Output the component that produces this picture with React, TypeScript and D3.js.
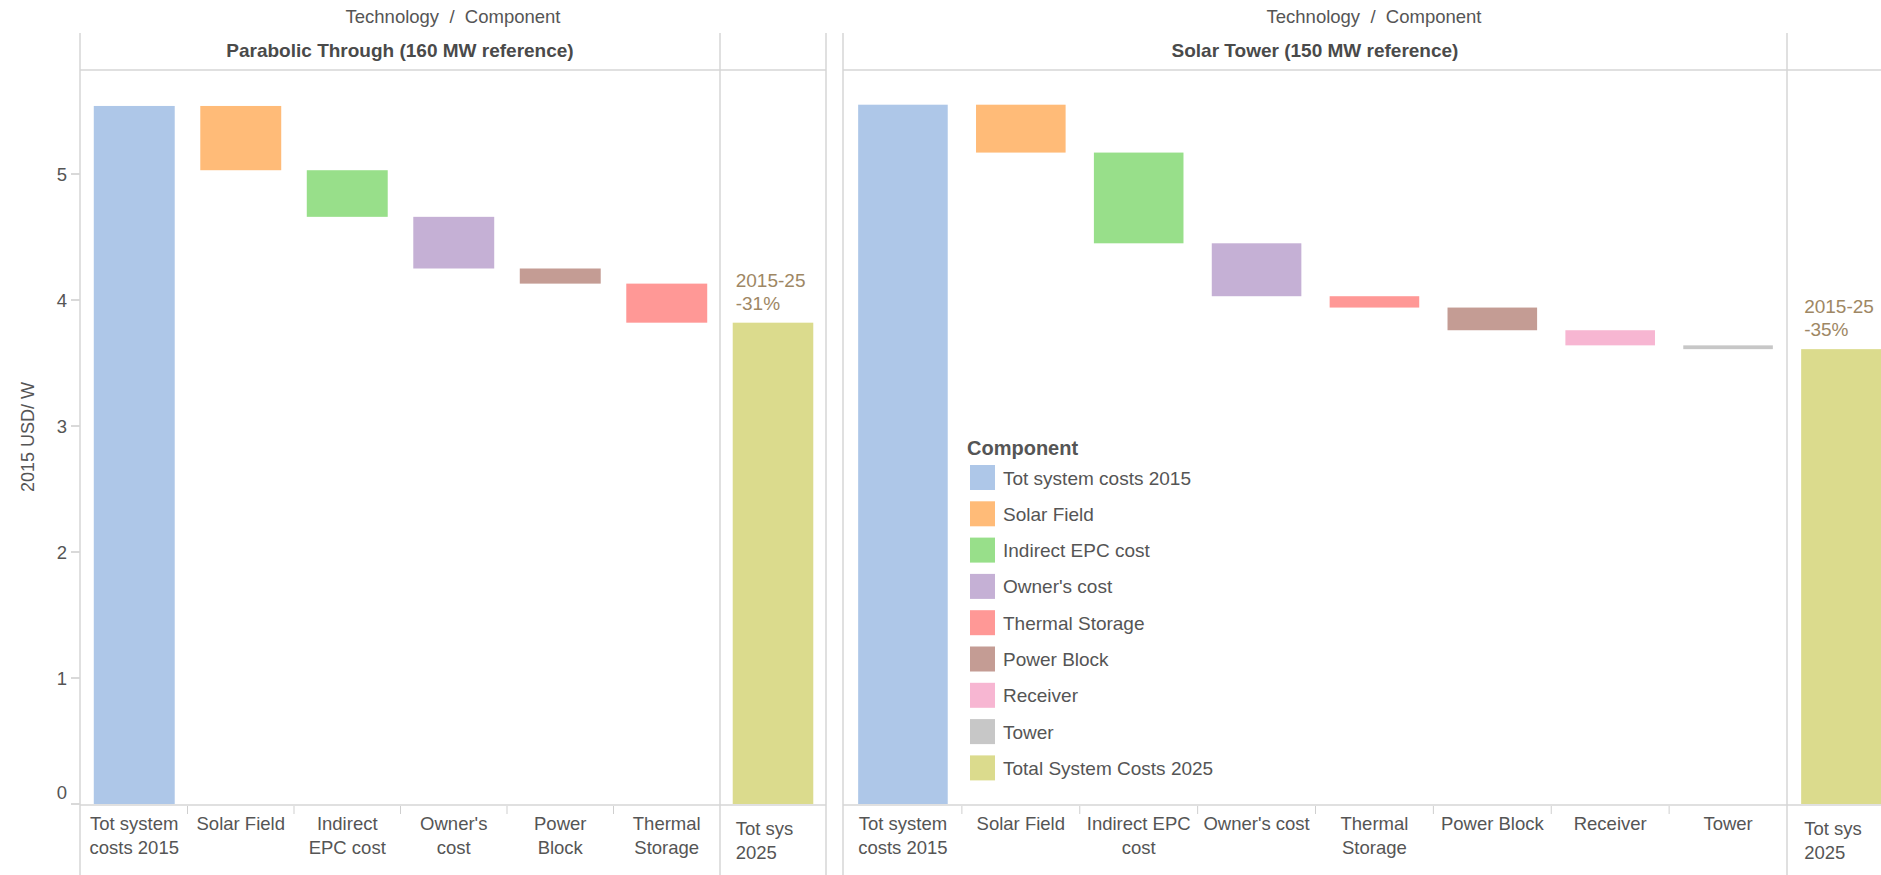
import React from "react";
import * as d3 from "d3";

// ---------- data ----------
const COMPONENTS = [
  "Tot system costs 2015",
  "Solar Field",
  "Indirect EPC cost",
  "Owner's cost",
  "Thermal Storage",
  "Power Block",
  "Receiver",
  "Tower",
  "Total System Costs 2025",
];
const COMPONENT_COLORS = [
  "#aec7e8",
  "#ffbb78",
  "#98df8a",
  "#c5b0d5",
  "#ff9896",
  "#c49c94",
  "#f7b6d2",
  "#c7c7c7",
  "#dbdb8d",
];

const PT_TITLE = "Parabolic Through (160 MW reference)";
const PT_CATEGORIES = [
  "Tot system costs 2015",
  "Solar Field",
  "Indirect EPC cost",
  "Owner's cost",
  "Power Block",
  "Thermal Storage",
];
const PT_AXIS_LABELS = [
  ["Tot system", "costs 2015"],
  ["Solar Field"],
  ["Indirect", "EPC cost"],
  ["Owner's", "cost"],
  ["Power", "Block"],
  ["Thermal", "Storage"],
];
const PT_TOTAL_2015 = 5.54;
const PT_REDUCTIONS = [0.51, 0.37, 0.41, 0.12, 0.31];
const PT_TOTAL_2025 = 3.82;
const PT_CHANGE_LABEL = ["2015-25", "-31%"];

const ST_TITLE = "Solar Tower (150 MW reference)";
const ST_CATEGORIES = [
  "Tot system costs 2015",
  "Solar Field",
  "Indirect EPC cost",
  "Owner's cost",
  "Thermal Storage",
  "Power Block",
  "Receiver",
  "Tower",
];
const ST_AXIS_LABELS = [
  ["Tot system", "costs 2015"],
  ["Solar Field"],
  ["Indirect EPC", "cost"],
  ["Owner's cost"],
  ["Thermal", "Storage"],
  ["Power Block"],
  ["Receiver"],
  ["Tower"],
];
const ST_TOTAL_2015 = 5.55;
const ST_REDUCTIONS = [0.38, 0.72, 0.42, 0.09, 0.18, 0.12, 0.03];
const ST_TOTAL_2025 = 3.61;
const ST_CHANGE_LABEL = ["2015-25", "-35%"];

const TOTAL_2025_CATEGORY = "Total System Costs 2025";
const TOTAL_2025_AXIS_LABEL = ["Tot sys", "2025"];
const Y_TICKS = [0, 1, 2, 3, 4, 5];
const Y_TITLE = "2015 USD/ W";
const COLUMN_HEADER = "Technology  /  Component";
const LEGEND_TITLE = "Component";

// ---------- layout ----------
const W = 1881;
const H = 875;
const FONT = "'Liberation Sans', Arial, Helvetica, sans-serif";
const LINE = "#d6d6d6";
const TEXT = "#555555";
const TOP_LINE_Y = 33;
const HEADER_Y = 70;
const BASE_Y = 804;

const y = d3.scaleLinear().domain([0, 5]).range([BASE_Y, 174]);
const color = d3.scaleOrdinal<string, string>().domain(COMPONENTS).range(COMPONENT_COLORS);

type Panel = {
  title: string;
  cats: string[];
  labels: string[][];
  total15: number;
  reductions: number[];
  total25: number;
  change: string[];
  x0: number;
  x1: number;
  x2: number;
};

const PANELS: Panel[] = [
  {
    title: PT_TITLE,
    cats: PT_CATEGORIES,
    labels: PT_AXIS_LABELS,
    total15: PT_TOTAL_2015,
    reductions: PT_REDUCTIONS,
    total25: PT_TOTAL_2025,
    change: PT_CHANGE_LABEL,
    x0: 80,
    x1: 720,
    x2: 826,
  },
  {
    title: ST_TITLE,
    cats: ST_CATEGORIES,
    labels: ST_AXIS_LABELS,
    total15: ST_TOTAL_2015,
    reductions: ST_REDUCTIONS,
    total25: ST_TOTAL_2025,
    change: ST_CHANGE_LABEL,
    x0: 843,
    x1: 1787,
    x2: 1905,
  },
];

function PanelView({ p }: { p: Panel }) {
  const x = d3.scaleBand().domain(p.cats).range([p.x0 + 1, p.x1]).paddingInner(0.24).paddingOuter(0.12);
  const xt = d3.scaleBand().domain([TOTAL_2025_CATEGORY]).range([p.x1, p.x2]).paddingInner(0.24).paddingOuter(0.12);

  // waterfall segments
  const bars: { cat: string; top: number; bottom: number }[] = [];
  bars.push({ cat: p.cats[0], top: p.total15, bottom: 0 });
  let level = p.total15;
  p.reductions.forEach((r, i) => {
    bars.push({ cat: p.cats[i + 1], top: level, bottom: level - r });
    level -= r;
  });

  const step = x.step();
  const tx = xt(TOTAL_2025_CATEGORY)!;
  const totTop = y(p.total25);

  return (
    <g>
      {/* header */}
      <text x={(p.x0 + p.x2) / 2} y={23} textAnchor="middle" fontSize={18.5} fill={TEXT} style={{ whiteSpace: "pre" }}>
        {COLUMN_HEADER}
      </text>
      <text x={(p.x0 + p.x1) / 2} y={57} textAnchor="middle" fontSize={19} fontWeight="bold" fill="#4a4a4a">
        {p.title}
      </text>
      {/* frame lines */}
      <line x1={p.x0} x2={p.x0} y1={TOP_LINE_Y} y2={H} stroke={LINE} strokeWidth={1.5} />
      <line x1={p.x1} x2={p.x1} y1={TOP_LINE_Y} y2={H} stroke={LINE} strokeWidth={1.5} />
      <line x1={p.x2} x2={p.x2} y1={TOP_LINE_Y} y2={H} stroke={LINE} strokeWidth={1.5} />
      <line x1={p.x0} x2={p.x2} y1={HEADER_Y} y2={HEADER_Y} stroke={LINE} strokeWidth={1.5} />
      <line x1={p.x0} x2={p.x2} y1={BASE_Y + 1} y2={BASE_Y + 1} stroke={LINE} strokeWidth={1.5} />
      {/* category separator ticks */}
      {p.cats.slice(1).map((c) => {
        const bx = x(c)! - (step - x.bandwidth()) / 2;
        return <line key={"t" + c} x1={bx} x2={bx} y1={806} y2={814} stroke="#cfcfcf" strokeWidth={1} />;
      })}
      {/* bars */}
      {bars.map((b) => (
        <rect
          key={b.cat}
          x={x(b.cat)}
          width={x.bandwidth()}
          y={y(b.top)}
          height={y(b.bottom) - y(b.top)}
          fill={color(b.cat)}
        />
      ))}
      <rect x={tx} width={xt.bandwidth()} y={totTop} height={BASE_Y - totTop} fill={color(TOTAL_2025_CATEGORY)} />
      {/* change label */}
      <text x={tx + 3} y={totTop - 36} fontSize={19} fill="#9e8764">
        {p.change[0]}
      </text>
      <text x={tx + 3} y={totTop - 13} fontSize={19} fill="#9e8764">
        {p.change[1]}
      </text>
      {/* x labels */}
      {p.cats.map((c, i) => (
        <text key={"l" + c} x={x(c)! + x.bandwidth() / 2} textAnchor="middle" fontSize={18.5} fill={TEXT}>
          {p.labels[i].map((s, j) => (
            <tspan key={j} x={x(c)! + x.bandwidth() / 2} y={830 + j * 23.5}>
              {s}
            </tspan>
          ))}
        </text>
      ))}
      <text fontSize={18.5} fill={TEXT}>
        {TOTAL_2025_AXIS_LABEL.map((s, j) => (
          <tspan key={j} x={tx + 3} y={835 + j * 23.5}>
            {s}
          </tspan>
        ))}
      </text>
    </g>
  );
}

export default function App() {
  return (
    <div style={{ position: "absolute", left: 0, top: 0, width: W, height: H, overflow: "hidden", background: "#fff" }}>
      <svg width={W} height={H} style={{ display: "block", fontFamily: FONT }}>
        <rect width={W} height={H} fill="#fff" />
        {/* y axis */}
        {Y_TICKS.map((t) => (
          <g key={t}>
            <line x1={71} x2={80} y1={y(t)} y2={y(t)} stroke="#cccccc" strokeWidth={1.5} />
            <text
              x={67}
              y={Math.min(y(t), BASE_Y - 12)}
              textAnchor="end"
              dominantBaseline="central"
              fontSize={18.5}
              fill={TEXT}
            >
              {t}
            </text>
          </g>
        ))}
        <text
          transform={`translate(34, 437) rotate(-90)`}
          textAnchor="middle"
          fontSize={18}
          fill={TEXT}
        >
          {Y_TITLE}
        </text>
        {PANELS.map((p) => (
          <PanelView key={p.title} p={p} />
        ))}
        {/* legend */}
        <g>
          <text x={967} y={455} fontSize={20} fontWeight="bold" fill={TEXT}>
            {LEGEND_TITLE}
          </text>
          {COMPONENTS.map((c, i) => (
            <g key={c}>
              <rect x={970} y={465 + i * 36.3} width={25} height={25} fill={color(c)} />
              <text x={1003} y={484.5 + i * 36.3} fontSize={19} fill={TEXT}>
                {c}
              </text>
            </g>
          ))}
        </g>
      </svg>
    </div>
  );
}
